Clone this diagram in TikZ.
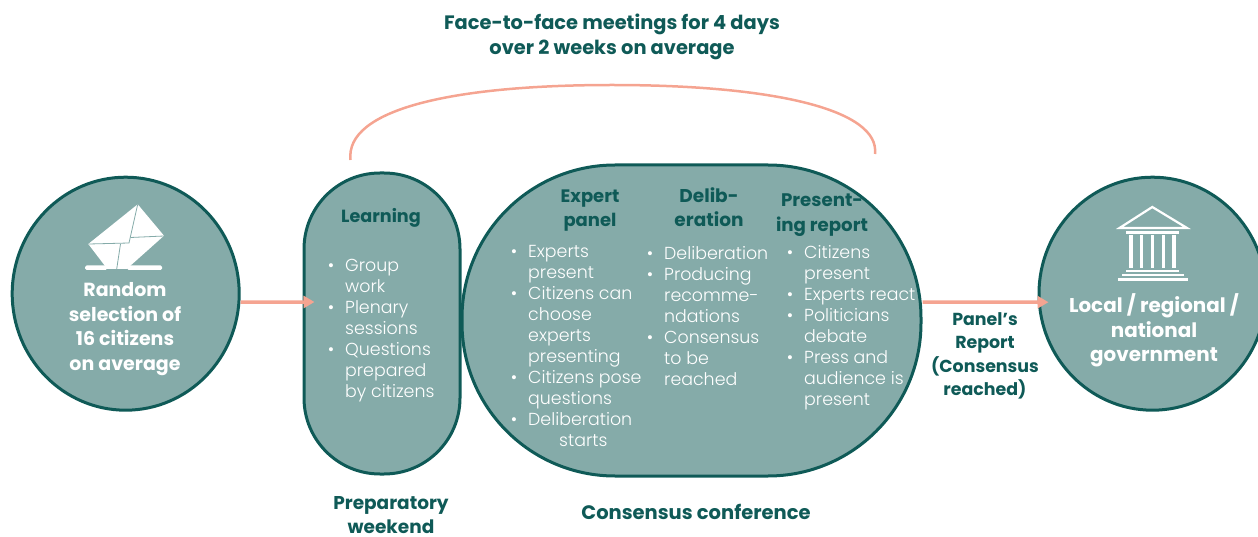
\documentclass[tikz,border=0pt]{standalone}
\usepackage{fontspec}
\setmainfont{Poppins}
\newfontfamily\lightf{Poppins Light}
\usetikzlibrary{shapes.geometric,arrows.meta}
\definecolor{dk}{HTML}{0F5A57}
\definecolor{fillc}{HTML}{85ABA9}
\definecolor{salm}{HTML}{F5A491}
\newcommand{\bul}[1]{\makebox[0pt][r]{\textbullet\hspace{11pt}}#1}
\tikzset{
 round/.style={ellipse,draw=dk,fill=fillc,line width=3pt,inner sep=0pt},
 pill/.style={rectangle,draw=dk,fill=fillc,line width=3pt,inner sep=0pt},
 fs/.style 2 args={font=\fontsize{#1}{#2}\selectfont\bfseries},
 head/.style={align=center,inner sep=0pt,text=dk,fs={18.5}{24.5}},
 whead/.style={align=center,inner sep=0pt,text=white,fs={18.5}{24.5}},
 body/.style={align=left,anchor=north west,inner sep=0pt,text=white,font=\fontsize{17.4}{21}\lightf},
 flow/.style={draw=salm,line width=3.5pt,-{Triangle[length=11pt,width=12pt]}},
 iconw/.style={fill=white,draw=none},
 foldl/.style={draw=fillc,line width=0.8pt}
}
\begin{document}
\begin{tikzpicture}[x=1pt,y=-1pt]
\useasboundingbox (0,0) rectangle (1258,537);
\node[round,minimum width=227pt,minimum height=233pt] (sel) at (125.7,293.7) {};
\node[round,minimum width=227pt,minimum height=233pt] (gov) at (1152.5,293.7) {};
\node[pill,rounded corners=76pt,minimum width=156pt,minimum height=301pt] (learn) at (382,323.5) {};
\node[pill,rounded corners=153pt,minimum width=459pt,minimum height=311pt] (conf) at (691.5,320.5) {};
% connectors
\draw[flow] ([yshift=-8.5pt]sel.east) -- ([xshift=12pt,yshift=21.5pt]learn.west);
\draw[flow] ([yshift=18.5pt]conf.east) -- ([xshift=11pt,yshift=-8.5pt]gov.west);
% bracket
\coordinate (brL) at (350.5,160);
\coordinate (brR) at (875,154);
\draw[salm,line width=2.5pt] (brL) .. controls (345,110) and (450,85) .. (612,85) .. controls (775,85) and (880,110) .. (brR);
% envelope
\path[iconw] (137.7,204.3) -- (164,235.7) -- (126.7,269) -- (107.3,269) -- (88.3,244) -- cycle;
\draw[foldl] (137.7,204.3) -- (129,243) -- (89,244);
\draw[foldl] (164,236) -- (130.5,237.5);
\draw[foldl] (120.5,244) -- (116.7,269);
\path[iconw,rounded corners=1.5pt] (85,265.5) rectangle (107,270);
\path[iconw,rounded corners=1.5pt] (127,265.5) rectangle (162,270);
% temple
\draw[white,line width=2.2pt,line join=miter] (1152.3,207) -- (1119.5,228) -- (1187,228) -- cycle;
\path[iconw] (1126,231) rectangle (1179,234.5);
\foreach \cx in {1131,1141.7,1152.3,1163.3,1174}{\path[iconw] (\cx-1.7,235) rectangle (\cx+1.7,268);}
\path[iconw] (1126,270) rectangle (1179,272);
\path[iconw] (1122,274) rectangle (1184,276.5);
\path[iconw] (1117.5,278.5) rectangle (1188,281);
% texts
\node[head,fs={19.4}{25}] (t1) at (612,36.5) {Face-to-face meetings for 4 days\\over 2 weeks on average};
\node[whead,fs={19}{24.5}] (t2) at (125,329) {Random\\selection of\\16 citizens\\on average};
\node[whead,fs={19.9}{24.5}] (t3) at (1154,330.5) {Local / regional /\\national\\government};
\node[head,fs={17.6}{24}] (t4) at (381,217.5) {Learning};
\node[head,fs={18}{24}] (t5) at (590,211) {Expert\\panel};
\node[head,fs={18.5}{24}] (t6) at (709,207.5) {Delib-\\eration};
\node[head,fs={18.2}{24.5}] (t7) at (822,215) {Present-\\ing report};
\node[head] (t8) at (391,515) {Preparatory\\weekend};
\node[head,fs={19.5}{24}] (t9) at (696,512) {Consensus conference};
\node[head,fs={17.4}{23.4}] (t10) at (985,356) {Panel’s\\Report\\(Consensus\\reached)};
\node[body] (b1) at (345,258.5) {\bul{Group}\\work\\\bul{Plenary}\\sessions\\\bul{Questions}\\prepared\\by citizens};
\node[body] (b2) at (528,245.5) {\bul{Experts}\\present\\\bul{Citizens can}\\choose\\experts\\presenting\\\bul{Citizens pose}\\questions\\\bul{Deliberation}\\\hspace*{31pt}starts};
\node[body] (b3) at (664,246.5) {\bul{Deliberation}\\\bul{Producing}\\recomme-\\ndations\\\bul{Consensus}\\to be\\reached};
\node[body] (b4) at (804,245.5) {\bul{Citizens}\\present\\\bul{Experts react}\\\bul{Politicians}\\debate\\\bul{Press and}\\audience is\\present};
\end{tikzpicture}
\end{document}
